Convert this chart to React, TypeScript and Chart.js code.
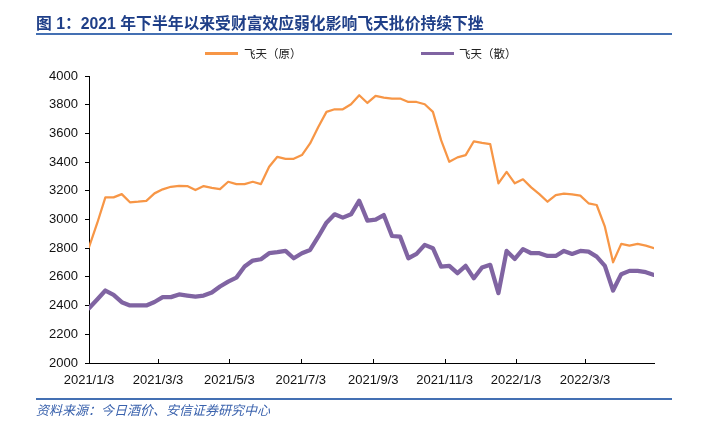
import React, { useEffect, useRef } from "react";
import { Chart, registerables } from "chart.js";

Chart.register(...registerables);

const titleText = "图 1：2021 年下半年以来受财富效应弱化影响飞天批价持续下挫";
const sourceText = "资料来源：今日酒价、安信证券研究中心";
const seriesNames = ["飞天（原）", "飞天（散）"];
const seriesColors = ["#F79646", "#8064A2"];
const seriesWidths = [2.25, 4.25];

const weeks = [
  "2021-01-03", "2021-01-10", "2021-01-17", "2021-01-24", "2021-01-31",
  "2021-02-07", "2021-02-14", "2021-02-21", "2021-02-28",
  "2021-03-07", "2021-03-14", "2021-03-21", "2021-03-28",
  "2021-04-04", "2021-04-11", "2021-04-18", "2021-04-25",
  "2021-05-02", "2021-05-09", "2021-05-16", "2021-05-23", "2021-05-30",
  "2021-06-06", "2021-06-13", "2021-06-20", "2021-06-27",
  "2021-07-04", "2021-07-11", "2021-07-18", "2021-07-25",
  "2021-08-01", "2021-08-08", "2021-08-15", "2021-08-22", "2021-08-29",
  "2021-09-05", "2021-09-12", "2021-09-19", "2021-09-26",
  "2021-10-03", "2021-10-10", "2021-10-17", "2021-10-24", "2021-10-31",
  "2021-11-07", "2021-11-14", "2021-11-21", "2021-11-28",
  "2021-12-05", "2021-12-12", "2021-12-19", "2021-12-26",
  "2022-01-02", "2022-01-09", "2022-01-16", "2022-01-23", "2022-01-30",
  "2022-02-06", "2022-02-13", "2022-02-20", "2022-02-27",
  "2022-03-06", "2022-03-13", "2022-03-20", "2022-03-27",
  "2022-04-03", "2022-04-10", "2022-04-17", "2022-04-24",
  "2022-05-01",
];

const feitianYuan = [
  2807, 2974, 3154, 3154, 3177, 3120, 3124, 3130, 3182, 3210,
  3228, 3235, 3233, 3205, 3233, 3221, 3212, 3263, 3247, 3247,
  3263, 3247, 3367, 3437, 3423, 3423, 3449, 3530, 3645, 3750,
  3768, 3768, 3803, 3866, 3812, 3861, 3850, 3843, 3843, 3819,
  3819, 3803, 3750, 3553, 3402, 3433, 3449, 3545, 3534, 3525,
  3252, 3332, 3252, 3280, 3224, 3177, 3124, 3170, 3180, 3175,
  3166, 3113, 3101, 2950, 2702, 2830, 2818, 2830, 2818, 2800,
];

const feitianSan = [
  2382, 2443, 2505, 2475, 2424, 2401, 2401, 2401, 2425, 2459,
  2459, 2478, 2470, 2463, 2470, 2491, 2533, 2567, 2595, 2672,
  2714, 2723, 2765, 2772, 2781, 2730, 2765, 2788, 2880, 2978,
  3036, 3013, 3036, 3131, 2992, 2999, 3031, 2885, 2880, 2730,
  2760, 2823, 2800, 2672, 2677, 2626, 2677, 2590, 2665, 2684,
  2487, 2781, 2725, 2793, 2765, 2765, 2746, 2746, 2781, 2760,
  2781, 2776, 2741, 2677, 2505, 2619, 2642, 2642, 2633, 2614,
];

const xTickLabels = [
  "2021/1/3", "2021/3/3", "2021/5/3", "2021/7/3",
  "2021/9/3", "2021/11/3", "2022/1/3", "2022/3/3",
];

const yMin = 2000;
const yMax = 4000;
const yStep = 200;

function toDay(s: string): number {
  const parts = s.split(/[-/]/).map(Number);
  return Date.UTC(parts[0], parts[1] - 1, parts[2]) / 86400000;
}

const insideXTicks = {
  id: "insideXTicks",
  afterDatasetsDraw(chart: any) {
    const xs = chart.scales.x;
    const ctx = chart.ctx;
    const y = chart.chartArea.bottom;
    ctx.save();
    ctx.strokeStyle = "#000";
    ctx.lineWidth = 1;
    xs.ticks.forEach((t: any) => {
      const px = Math.round(xs.getPixelForValue(t.value)) + 0.5;
      ctx.beginPath();
      ctx.moveTo(px, y);
      ctx.lineTo(px, y - 4);
      ctx.stroke();
    });
    ctx.restore();
  },
};

export default function App() {
  const canvasRef = useRef<HTMLCanvasElement | null>(null);

  useEffect(() => {
    if (!canvasRef.current) return;
    const seriesData = [feitianYuan, feitianSan];
    const chart = new Chart(canvasRef.current, {
      type: "line",
      data: {
        datasets: seriesNames.map((name, i) => ({
          label: name,
          data: weeks.map((w, k) => ({ x: toDay(w), y: seriesData[i][k] })),
          borderColor: seriesColors[i],
          backgroundColor: seriesColors[i],
          borderWidth: seriesWidths[i],
          pointRadius: 0,
          tension: 0,
          borderJoinStyle: "round" as const,
          borderCapStyle: "round" as const,
          fill: false,
        })),
      },
      options: {
        responsive: false,
        animation: false,
        layout: { padding: { top: 76, right: 48, bottom: 0, left: 0 } },
        plugins: {
          legend: { display: false },
          tooltip: { enabled: false },
        },
        scales: {
          x: {
            type: "linear",
            min: toDay(weeks[0]),
            max: toDay(weeks[weeks.length - 1]),
            afterBuildTicks: (scale: any) => {
              scale.ticks = xTickLabels.map((l) => ({ value: toDay(l) }));
            },
            afterFit: (scale: any) => {
              scale.height = 71;
            },
            grid: { display: true, drawOnChartArea: false, drawTicks: false },
            border: { display: true, color: "#000", width: 1 },
            ticks: {
              autoSkip: false,
              maxRotation: 0,
              padding: 10,
              color: "#111",
              font: { family: "'Liberation Sans', Arial, sans-serif", size: 13 },
              callback: (_v: any, i: number) => xTickLabels[i],
            },
          },
          y: {
            min: yMin,
            max: yMax,
            afterFit: (scale: any) => {
              scale.width = 89;
            },
            grid: { drawOnChartArea: false, drawTicks: true, tickLength: 4, color: "#000" },
            border: { display: true, color: "#000", width: 1 },
            ticks: {
              stepSize: yStep,
              padding: 7,
              color: "#111",
              font: { family: "'Liberation Sans', Arial, sans-serif", size: 13 },
              callback: (v: any) => String(v),
            },
          },
        },
      },
      plugins: [insideXTicks],
    });
    return () => chart.destroy();
  }, []);

  const cjk = "'Liberation Sans', 'Noto Sans CJK SC', sans-serif";

  return (
    <div style={{ position: "fixed", left: 0, top: 0, width: 702, height: 434, background: "#fff", overflow: "hidden" }}>
      <canvas ref={canvasRef} width={702} height={434} style={{ position: "absolute", left: 0, top: 0, width: 702, height: 434 }} />
      <div style={{ position: "absolute", left: 36, top: 14, lineHeight: "20px", fontSize: 15.8, fontWeight: 700, fontFamily: cjk, color: "#1f3f88", whiteSpace: "nowrap" }}>
        {titleText}
      </div>
      <div style={{ position: "absolute", left: 36, top: 33, width: 636, height: 2, background: "#4470b3" }} />
      {seriesNames.map((name, i) => (
        <React.Fragment key={name}>
          <div style={{ position: "absolute", left: i === 0 ? 205 : 421, top: i === 0 ? 52 : 51.5, width: 33, height: i === 0 ? 2.5 : 3.5, background: seriesColors[i] }} />
          <div style={{ position: "absolute", left: i === 0 ? 244 : 459, top: 46, lineHeight: "14px", fontSize: 11.5, fontFamily: "'Noto Sans CJK SC', sans-serif", color: "#222", whiteSpace: "nowrap" }}>
            {name}
          </div>
        </React.Fragment>
      ))}
      <div style={{ position: "absolute", left: 36, top: 398, width: 636, height: 1.5, background: "#4470b3" }} />
      <div style={{ position: "absolute", left: 36, top: 402, lineHeight: "16px", fontSize: 13, fontStyle: "italic", fontFamily: "'Noto Sans CJK SC', sans-serif", color: "#3a62ad", whiteSpace: "nowrap" }}>
        {sourceText}
      </div>
    </div>
  );
}
